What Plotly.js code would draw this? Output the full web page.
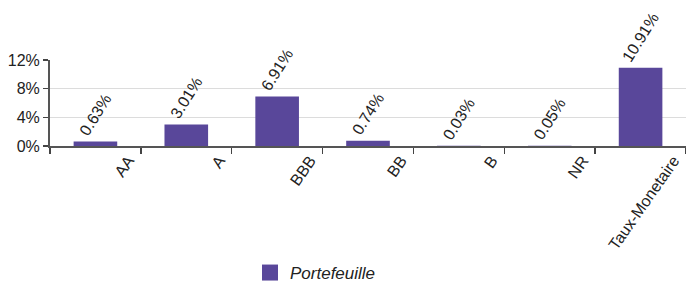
<!DOCTYPE html>
<html>
<head>
<meta charset="utf-8">
<script src="https://cdn.plot.ly/plotly-3.0.1.min.js"></script>
<style>html,body{margin:0;padding:0;background:#fff;}#chart{width:686px;height:286px;}</style>
</head>
<body>
<div id="chart"></div>
<script>
var categories = ["AA", "A", "BBB", "BB", "B", "NR", "Taux-Monetaire"];
var portefeuille = [0.63, 3.01, 6.91, 0.74, 0.03, 0.05, 10.91];
var seriesName = "Portefeuille";
var yTicks = [0, 4, 8, 12];

var color = "#59479a";
var font = "Liberation Sans, Arial, sans-serif";

var traces = [
  {
    type: "bar",
    x: categories,
    y: portefeuille,
    marker: {color: color},
    text: portefeuille.map(function(v){ return v.toFixed(2) + "%"; }),
    textposition: "outside",
    textangle: -58,
    constraintext: "none",
    cliponaxis: false,
    textfont: {family: font, size: 16, color: "#222"},
    showlegend: false,
    hoverinfo: "none"
  },
  {
    type: "scatter",
    mode: "markers",
    x: [null],
    y: [null],
    name: seriesName,
    marker: {symbol: "square", size: 20, color: color},
    showlegend: true
  }
];

var layout = {
  width: 686,
  height: 286,
  margin: {l: 50, r: 0, t: 60, b: 140},
  paper_bgcolor: "#fff",
  plot_bgcolor: "#fff",
  bargap: 0.52,
  font: {family: font, size: 15, color: "#222"},
  xaxis: {
    type: "category",
    tickson: "boundaries",
    ticks: "outside",
    ticklen: 6,
    tickwidth: 1.5,
    tickcolor: "#444",
    tickangle: -55,
    ticklabelshift: 33,
    ticklabelstandoff: -3,
    showline: true,
    linecolor: "#555",
    linewidth: 2,
    showgrid: false,
    tickfont: {family: font, size: 16, color: "#222"}
  },
  yaxis: {
    range: [0, 12],
    tickvals: yTicks,
    ticktext: yTicks.map(function(v){ return v + "%"; }),
    ticks: "outside",
    ticklen: 5,
    tickwidth: 1.5,
    tickcolor: "#444",
    showline: true,
    linecolor: "#555",
    linewidth: 2,
    gridcolor: "#dcdcdc",
    gridwidth: 1,
    zeroline: false,
    tickfont: {family: font, size: 16, color: "#222"}
  },
  showlegend: true,
  legend: {
    orientation: "h",
    xref: "container",
    yref: "container",
    x: 250 / 686,
    xanchor: "left",
    y: 1 - 273 / 286,
    yanchor: "middle",
    itemsizing: "trace",
    font: {family: font, size: 17, color: "#222", style: "italic"}
  }
};

Plotly.newPlot("chart", traces, layout, {displayModeBar: false, staticPlot: true});
</script>
</body>
</html>
